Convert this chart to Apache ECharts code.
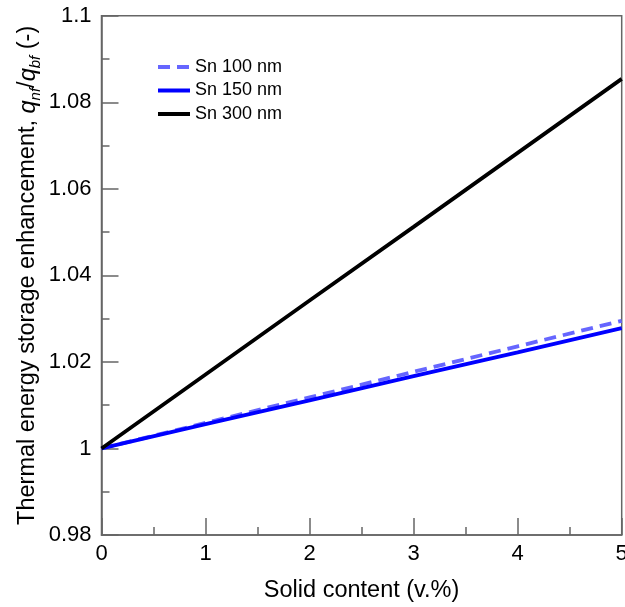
<!DOCTYPE html>
<html>
<head>
<meta charset="utf-8">
<script src="https://cdn.jsdelivr.net/npm/echarts@6/dist/echarts.min.js"></script>
<style>
  html, body { margin: 0; padding: 0; background: #fff; }
  #chart { width: 625px; height: 607px; }
</style>
</head>
<body>
<div id="chart"></div>
<script>
// Solid content (v.%) and storage enhancement ratio for each particle size
const solidContent = [0, 1, 2, 3, 4, 5];
const sn100 = [1, 1.0059, 1.0118, 1.0177, 1.0236, 1.0295];
const sn150 = [1, 1.0056, 1.0111, 1.0167, 1.0222, 1.0278];
const sn300 = [1, 1.0171, 1.0342, 1.0512, 1.0683, 1.0854];
const seriesNames = ['Sn 100 nm', 'Sn 150 nm', 'Sn 300 nm'];

const FONT = 'Liberation Sans, Arial, sans-serif';
const AXIS_COLOR = '#666';

function pairs(xs, ys) { return xs.map((x, i) => [x, ys[i]]); }

const chart = echarts.init(document.getElementById('chart'), null, { renderer: 'canvas' });

chart.setOption({
  animation: false,
  backgroundColor: '#fff',
  textStyle: { fontFamily: FONT },
  grid: {
    left: 101.5, right: 3.3, top: 15.7, bottom: 72,
    containLabel: false, outerBoundsMode: 'none',
    show: true, borderColor: AXIS_COLOR, borderWidth: 1.5, backgroundColor: 'transparent'
  },
  legend: {
    orient: 'vertical',
    left: 151, top: 53,
    itemWidth: 32, itemHeight: 4, itemGap: 5.5,
    data: seriesNames,
    itemStyle: { opacity: 0 },
    lineStyle: { width: 4 },
    textStyle: { fontFamily: FONT, fontSize: 18, color: '#000' }
  },
  xAxis: {
    type: 'value', min: 0, max: 5, interval: 1,
    name: 'Solid content (v.%)',
    nameLocation: 'middle', nameGap: 44, nameMoveOverlap: false,
    nameTextStyle: { fontFamily: FONT, fontSize: 23.5, color: '#000' },
    axisLine: { show: true, lineStyle: { color: AXIS_COLOR, width: 1.5 } },
    axisTick: { show: true, inside: true, length: 17, lineStyle: { color: AXIS_COLOR, width: 1.5 } },
    minorTick: { show: true, splitNumber: 2, length: 8, lineStyle: { color: AXIS_COLOR, width: 1.5 } },
    axisLabel: { fontFamily: FONT, fontSize: 22, color: '#000', margin: 8 },
    splitLine: { show: false }
  },
  yAxis: {
    type: 'value', min: 0.98, max: 1.1, interval: 0.02,
    name: '{n|Thermal energy storage enhancement, }{i|q}{s|nf}{n|/}{i|q}{s|bf}{n| (-)}',
    nameLocation: 'middle', nameGap: 62, nameRotate: 90, nameMoveOverlap: false,
    nameTextStyle: {
      fontFamily: FONT, fontSize: 23.5, color: '#000',
      rich: {
        n: { fontFamily: FONT, fontSize: 23.5, color: '#000', verticalAlign: 'bottom', lineHeight: 28 },
        i: { fontFamily: FONT, fontSize: 23.5, color: '#000', fontStyle: 'italic', verticalAlign: 'bottom', lineHeight: 28 },
        s: { fontFamily: FONT, fontSize: 15, color: '#000', fontStyle: 'italic', verticalAlign: 'bottom', lineHeight: 28, padding: [0, 0, -4, 0] }
      }
    },
    axisLine: { show: true, lineStyle: { color: AXIS_COLOR, width: 1.5 } },
    axisTick: { show: true, inside: true, length: 17, lineStyle: { color: AXIS_COLOR, width: 1.5 } },
    minorTick: { show: true, splitNumber: 2, length: 8, lineStyle: { color: AXIS_COLOR, width: 1.5 } },
    axisLabel: {
      fontFamily: FONT, fontSize: 22, color: '#000', margin: 10,
      formatter: v => String(parseFloat(v.toFixed(4)))
    },
    splitLine: { show: false }
  },
  series: [
    {
      name: seriesNames[0], type: 'line', data: pairs(solidContent, sn100),
      showSymbol: false, symbol: 'none', z: 3,
      lineStyle: { color: '#6666ff', width: 3.8, type: [12, 7] },
      itemStyle: { color: '#6666ff' }
    },
    {
      name: seriesNames[1], type: 'line', data: pairs(solidContent, sn150),
      showSymbol: false, symbol: 'none', z: 4,
      lineStyle: { color: '#0000ff', width: 3.8 },
      itemStyle: { color: '#0000ff' }
    },
    {
      name: seriesNames[2], type: 'line', data: pairs(solidContent, sn300),
      showSymbol: false, symbol: 'none', z: 5,
      lineStyle: { color: '#000', width: 3.8 },
      itemStyle: { color: '#000' }
    }
  ]
});
</script>
</body>
</html>
